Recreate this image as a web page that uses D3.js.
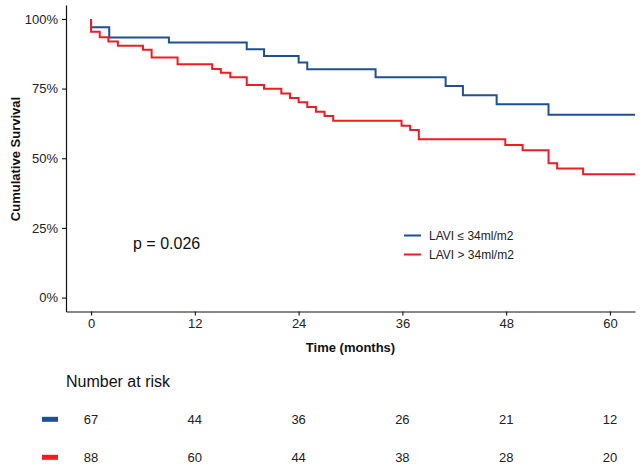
<!DOCTYPE html>
<html><head><meta charset="utf-8">
<script src="https://cdn.jsdelivr.net/npm/d3@7"></script>
<style>
body{margin:0;background:#fff;}
svg{display:block;font-family:"Liberation Sans",Arial,sans-serif;}
</style></head>
<body><svg id="c" width="640" height="470"></svg>
<script>
const blueTime = [0, 0, 2.1, 9.0, 18.0, 20.0, 24.0, 25.0, 32.9, 41.0, 43.0, 46.9, 52.9, 62.9];
const blueSurv = [1, 0.970, 0.933, 0.915, 0.891, 0.867, 0.844, 0.819, 0.791, 0.759, 0.726, 0.694, 0.656, 0.656];
const redTime = [0, 0, 1.0, 2.0, 3.1, 6.0, 7.0, 10.0, 14.0, 15.0, 16.1, 18.0, 20.0, 22.0, 23.0, 24.0, 25.0, 26.0, 27.0, 28.0, 35.9, 36.9, 37.9, 47.9, 49.9, 52.9, 53.9, 56.9, 62.9];
const redSurv = [1, 0.954, 0.934, 0.919, 0.904, 0.889, 0.862, 0.837, 0.820, 0.807, 0.791, 0.763, 0.749, 0.732, 0.716, 0.701, 0.684, 0.667, 0.652, 0.635, 0.617, 0.601, 0.568, 0.548, 0.529, 0.482, 0.463, 0.443, 0.443];
const xTicks = [0, 12, 24, 36, 48, 60];
const yTicks = [0, 0.25, 0.5, 0.75, 1];
const seriesNames = ["LAVI \u2264 34ml/m2", "LAVI > 34ml/m2"];
const riskBlue = [67, 44, 36, 26, 21, 12];
const riskRed = [88, 60, 44, 38, 28, 20];
const pText = "p = 0.026";

const BLUE = "#1f4f95", RED = "#ee1c24";
const svg = d3.select("#c");
const x = d3.scaleLinear().domain([-2.9, 62.9]).range([66, 635]);
const y = d3.scaleLinear().domain([-0.05, 1.05]).range([311.5, 5]);

// axes
const gx = svg.append("g").attr("transform","translate(0,311.5)")
  .call(d3.axisBottom(x).tickValues(xTicks).tickSize(4).tickSizeOuter(0).tickFormat(d3.format("d")));
const gy = svg.append("g").attr("transform","translate(66,0)")
  .call(d3.axisLeft(y).tickValues(yTicks).tickSize(4).tickSizeOuter(0).tickFormat(d3.format(".0%")));
[gx, gy].forEach(g => {
  g.select(".domain").attr("stroke","#111").attr("stroke-width",1.2);
  g.selectAll(".tick line").attr("stroke","#111").attr("stroke-width",1.1);
  g.selectAll(".tick text").attr("fill","#222").attr("font-size",13).attr("font-family","Liberation Sans, Arial, sans-serif");
});
gy.selectAll(".tick text").attr("dx","-1");

svg.append("text").attr("x",350.5).attr("y",351.5).attr("text-anchor","middle")
  .attr("font-size",13).attr("font-weight","bold").attr("fill","#111").text("Time (months)");
svg.append("text").attr("transform","translate(19.5,159) rotate(-90)").attr("text-anchor","middle")
  .attr("font-size",13).attr("font-weight","bold").attr("fill","#111").text("Cumulative Survival");

// curves
const line = d3.line().x(d=>x(d[0])).y(d=>y(d[1])).curve(d3.curveStepAfter);
svg.append("path").datum(blueTime.map((t,i)=>[t, blueSurv[i]]))
  .attr("d",line).attr("fill","none").attr("stroke",BLUE).attr("stroke-width",2);
svg.append("path").datum(redTime.map((t,i)=>[t, redSurv[i]]))
  .attr("d",line).attr("fill","none").attr("stroke",RED).attr("stroke-width",2);

// p value
svg.append("text").attr("x",133).attr("y",249).attr("font-size",16).attr("fill","#111").text(pText);

// legend
const cols = [BLUE, RED];
seriesNames.forEach((n,i)=>{
  const yy = 235.5 + i*19;
  svg.append("line").attr("x1",404).attr("x2",421).attr("y1",yy).attr("y2",yy).attr("stroke",cols[i]).attr("stroke-width",2);
  svg.append("text").attr("x",429).attr("y",yy+4.5).attr("font-size",12).attr("fill","#222").text(n);
});

// risk table
svg.append("text").attr("x",66).attr("y",386.5).attr("font-size",16).attr("fill","#111").text("Number at risk");
[riskBlue, riskRed].forEach((row,i)=>{
  const yy = 419.3 + i*38;
  svg.append("rect").attr("x",42).attr("y",yy-2.5).attr("width",16).attr("height",5).attr("fill",cols[i]);
  svg.selectAll(null).data(row).enter().append("text")
    .attr("x",(d,j)=>x(xTicks[j])).attr("y",yy+4.5).attr("text-anchor","middle")
    .attr("font-size",13).attr("fill","#222").text(d=>d);
});
</script></body></html>
